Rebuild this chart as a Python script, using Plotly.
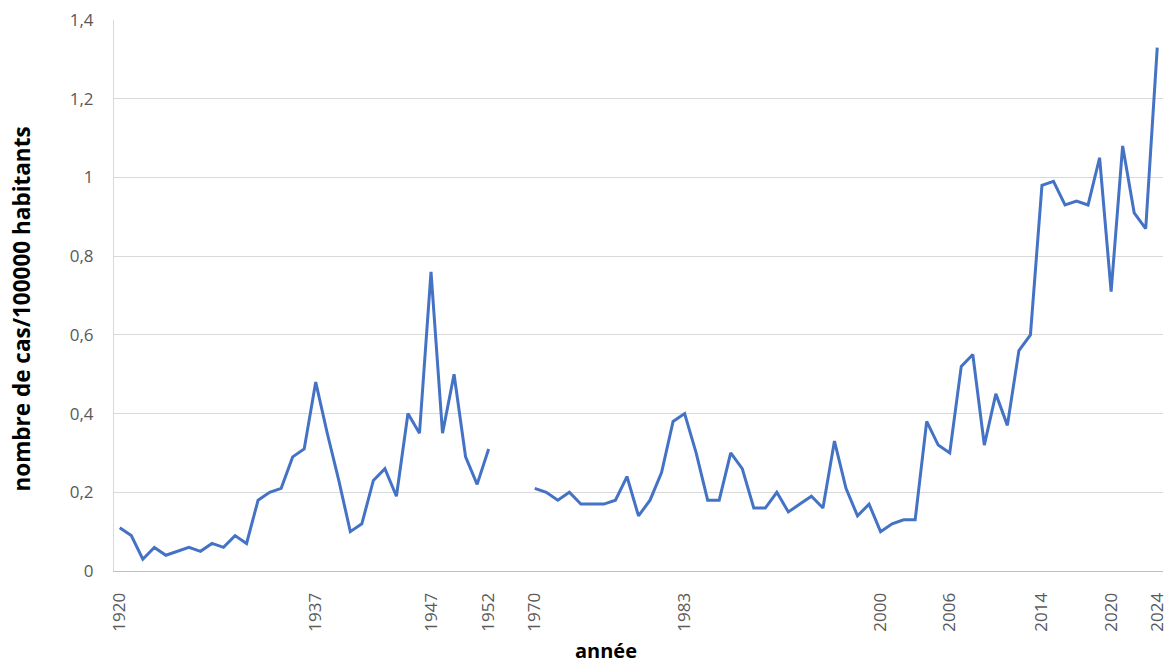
import plotly.graph_objects as go

# Annual incidence (cases per 100 000 inhabitants), two observation periods
annees_periode1 = [1920, 1921, 1922, 1923, 1924, 1925, 1926, 1927, 1928, 1929,
                   1930, 1931, 1932, 1933, 1934, 1935, 1936, 1937, 1938, 1939,
                   1940, 1941, 1942, 1943, 1944, 1945, 1946, 1947, 1948, 1949,
                   1950, 1951, 1952]
cas_periode1 = [0.11, 0.09, 0.03, 0.06, 0.04, 0.05, 0.06, 0.05, 0.07, 0.06,
                0.09, 0.07, 0.18, 0.20, 0.21, 0.29, 0.31, 0.48, 0.35, 0.23,
                0.10, 0.12, 0.23, 0.26, 0.19, 0.40, 0.35, 0.76, 0.35, 0.50,
                0.29, 0.22, 0.31]

annees_periode2 = [1970, 1971, 1972, 1973, 1974, 1975, 1976, 1977, 1978, 1979,
                   1980, 1981, 1982, 1983, 1984, 1985, 1986, 1987, 1988, 1989,
                   1990, 1991, 1992, 1993, 1994, 1995, 1996, 1997, 1998, 1999,
                   2000, 2001, 2002, 2003, 2004, 2005, 2006, 2007, 2008, 2009,
                   2010, 2011, 2012, 2013, 2014, 2015, 2016, 2017, 2018, 2019,
                   2020, 2021, 2022, 2023, 2024]
cas_periode2 = [0.21, 0.20, 0.18, 0.20, 0.17, 0.17, 0.17, 0.18, 0.24, 0.14,
                0.18, 0.25, 0.38, 0.40, 0.30, 0.18, 0.18, 0.30, 0.26, 0.16,
                0.16, 0.20, 0.15, 0.17, 0.19, 0.16, 0.33, 0.21, 0.14, 0.17,
                0.10, 0.12, 0.13, 0.13, 0.38, 0.32, 0.30, 0.52, 0.55, 0.32,
                0.45, 0.37, 0.56, 0.60, 0.98, 0.99, 0.93, 0.94, 0.93, 1.05,
                0.71, 1.08, 0.91, 0.87, 1.33]

# Empty category slots separating the two periods
nb_cases_vides = 3

# Years shown as tick labels
annees_etiquetees = [1920, 1937, 1947, 1952, 1970, 1983, 2000, 2006, 2014, 2020, 2024]

y_ticks = [0, 0.2, 0.4, 0.6, 0.8, 1.0, 1.2, 1.4]
y_ticktext = ["0", "0,2", "0,4", "0,6", "0,8", "1", "1,2", "1,4"]

# Category sequence: period 1, blank slots, period 2
annees = annees_periode1 + [None] * nb_cases_vides + annees_periode2
cas = cas_periode1 + [None] * nb_cases_vides + cas_periode2
positions = list(range(len(annees)))

tick_pos = [annees.index(a) for a in annees_etiquetees]
tick_txt = [str(a) for a in annees_etiquetees]

FONT = "'Open Sans', Lato, sans-serif"
GRID = "#d9d9d9"

fig = go.Figure()
fig.add_trace(go.Scatter(
    x=positions, y=cas, mode="lines",
    line=dict(color="#4472C4", width=3),
    connectgaps=False,
    hoverinfo="skip",
))

fig.update_layout(
    width=1175, height=666,
    margin=dict(l=114, r=7, t=20, b=95),
    paper_bgcolor="white", plot_bgcolor="white",
    showlegend=False,
    font=dict(family=FONT, size=17, color="#595959"),
    xaxis=dict(
        range=[-0.5, len(annees) - 0.5],
        tickmode="array", tickvals=tick_pos, ticktext=tick_txt,
        tickangle=-90,
        showgrid=False, zeroline=False,
        showline=True, linecolor="#bfbfbf", linewidth=1,
        ticks="", ticklabelstandoff=14,
        tickfont=dict(family=FONT, size=17, color="#595959"),
    ),
    yaxis=dict(
        range=[0, 1.4],
        tickmode="array", tickvals=y_ticks, ticktext=y_ticktext,
        showgrid=True, gridcolor=GRID, gridwidth=1,
        zeroline=False,
        showline=True, linecolor=GRID, linewidth=1,
        ticks="", ticklabelstandoff=16,
        tickfont=dict(family=FONT, size=17, color="#595959"),
    ),
    annotations=[
        dict(text="<b>nombre de cas/100000 habitants</b>",
             xref="paper", yref="paper",
             x=(21 - 114) / 1054, y=(571 - 309) / 551,
             xanchor="center", yanchor="middle", textangle=-90,
             showarrow=False,
             font=dict(family=FONT, size=22.5, color="#000000")),
        dict(text="<b>année</b>",
             xref="paper", yref="paper",
             x=(608 - 114) / 1054, y=(571 - 650) / 551,
             xanchor="center", yanchor="middle",
             showarrow=False,
             font=dict(family=FONT, size=20, color="#000000")),
    ],
)

fig.write_html("out.html")
